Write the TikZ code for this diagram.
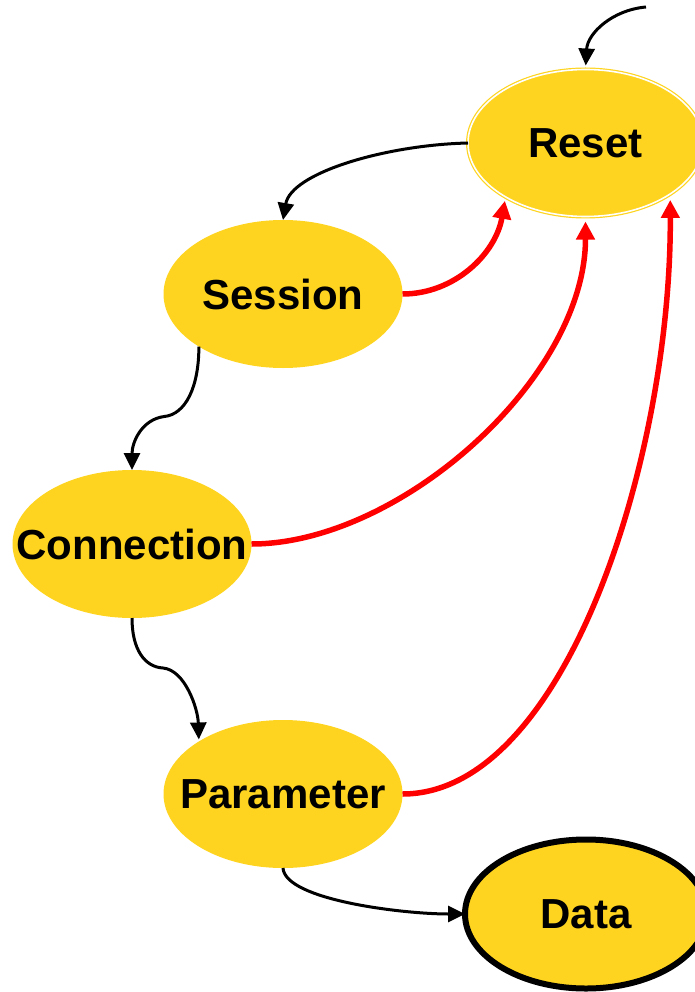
\documentclass[tikz,border=0pt]{standalone}
\usepackage{fontspec}
\setmainfont{Liberation Sans}
\usetikzlibrary{arrows.meta,shapes.geometric}

\definecolor{stategold}{RGB}{254,212,32}
\definecolor{resetred}{RGB}{255,0,0}
\newcommand{\statelabel}[1]{\makebox[0pt][c]{\raisebox{-1.5pt}{#1}}}

\tikzset{
  state/.style={ellipse, fill=stategold, inner sep=0pt, outer sep=0pt,
    minimum width=239pt, minimum height=148pt,
    font=\fontsize{42}{50}\selectfont\bfseries},
  initstate/.style={state, draw=stategold, line width=1.2pt,
    double=white, double distance=1.6pt,
    minimum width=235pt, minimum height=147pt},
  finalstate/.style={state, draw=black, line width=6pt,
    minimum width=242pt, minimum height=149pt},
  flow/.style={draw=black, line width=3pt,
    -{Triangle[length=17pt,width=16pt]}},
  resetflow/.style={draw=resetred, line width=5.5pt,
    -{Triangle[length=18pt,width=18pt]}}
}

\begin{document}
\begin{tikzpicture}[x=1pt, y=-1pt]
  \useasboundingbox (0,0) rectangle (695,992);
  \clip (0,0) rectangle (695,992);

  % states
  \node[initstate]  (reset)      at (585.5,143) {\statelabel{Reset}};
  \node[state]      (session)    at (283,294)   {\statelabel{Session}};
  \node[state]      (connection) at (132,544)   {\statelabel{Connection}};
  \node[state]      (parameter)  at (283,794)   {\statelabel{Parameter}};
  \node[finalstate] (data)       at (586,914)   {\statelabel{Data}};

  % entry point
  \coordinate (entry) at (646,7);

  % normal progression
  \draw[flow, shorten >=4pt] (entry) .. controls +(-34,3) and +(2,-36) .. (reset.north);
  \draw[flow] (reset.west) .. controls +(-83,2) and +(8,-47) .. (session.north);
  \draw[flow] (session.212) .. controls +(0,40) and +(22,-2) .. ++(-35,70)
                            .. controls +(-22,3) and +(0,-28) .. (connection.north);
  \draw[flow, shorten >=2pt] (connection.south) .. controls +(0,32) and +(-18,-1) .. ++(31,50)
                            .. controls +(22,2) and +(-1,-33) .. (parameter.148);
  \draw[flow] (parameter.south) .. controls +(2,32) and +(-62,0) .. (data.west);

  % reset transitions
  \draw[resetflow, shorten >=4pt] (session.east) .. controls +(52,0) and +(-10,57) .. (reset.214);
  \draw[resetflow, shorten >=5pt] (connection.east) .. controls +(148,0) and +(0,162) .. (reset.south);
  \draw[resetflow, shorten >=6pt] (parameter.east) .. controls +(162,0) and +(1,265) .. (reset.329);
\end{tikzpicture}
\end{document}
